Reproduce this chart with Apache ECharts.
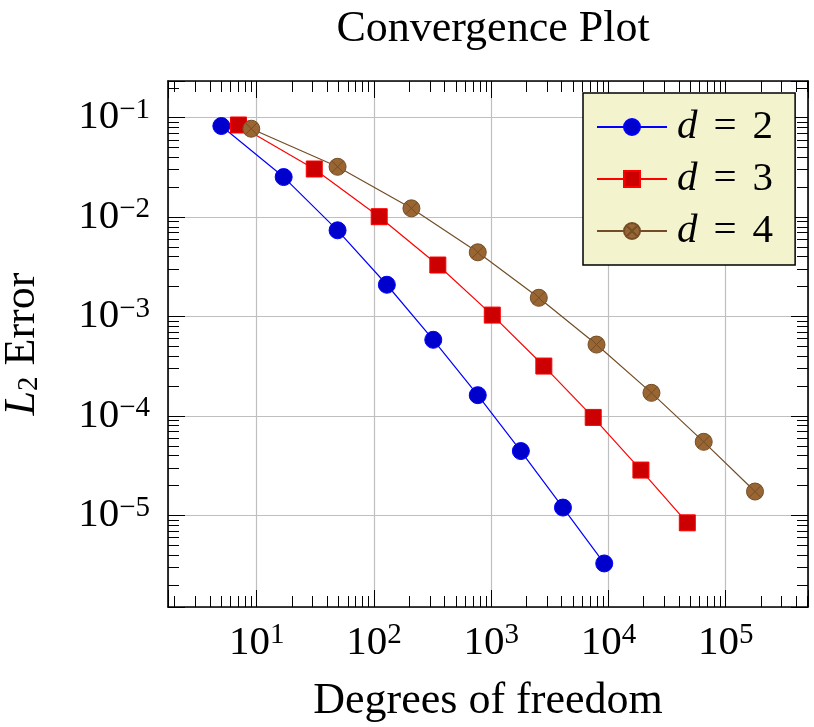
<!DOCTYPE html>
<html>
<head>
<meta charset="utf-8">
<title>Convergence Plot</title>
<script src="https://cdn.jsdelivr.net/npm/echarts@6/dist/echarts.min.js"></script>
<style>
    html, body { margin: 0; padding: 0; background: #fff; }
    #chart { width: 814px; height: 727px; }
</style>
</head>
<body>
<div id="chart"></div>
<script>
// degrees of freedom / L2 error per polynomial degree d
const dofD2 = [5, 17, 49, 129, 321, 769, 1793, 4097, 9217];
const errD2 = [0.0825, 0.0253, 0.00737, 0.00209, 5.84e-4, 1.62e-4, 4.44e-5, 1.20e-5, 3.29e-6];
const dofD3 = [7, 31, 111, 351, 1023, 2815, 7423, 18943, 47103];
const errD3 = [0.0845, 0.0305, 0.0101, 0.0033, 1.035e-3, 3.18e-4, 9.68e-5, 2.86e-5, 8.43e-6];
const dofD4 = [9, 49, 209, 769, 2550, 7920, 23300, 65000, 178000];
const errD4 = [0.0775, 0.0321, 0.01226, 0.00443, 1.545e-3, 5.23e-4, 1.71e-4, 5.50e-5, 1.74e-5];

const degrees = [2, 3, 4];
const seriesNames = ['d = 2', 'd = 3', 'd = 4'];

// axis limits (data range enlarged by 10% in log space)
const xMin = 1.754, xMax = 504000;
const yMin = 1.2e-6, yMax = 0.234;

const FONT = "'Liberation Serif', 'DejaVu Serif', serif";
const otimes = 'path://M0,10A10,10,0,1,1,20,10A10,10,0,1,1,0,10ZM2.93,2.93L17.07,17.07M17.07,2.93L2.93,17.07';

const zip = (xs, ys) => xs.map((x, i) => [x, ys[i]]);

function powLabel(v) {
    const l = Math.log10(v);
    const e = Math.round(l);
    if (Math.abs(l - e) > 1e-6) return '';
    return '{b|10}{s|' + (e < 0 ? '\u2212' + (-e) : e) + '}';
}

const labelRich = {
    b: { fontFamily: FONT, fontSize: 41, lineHeight: 44, color: '#000' },
    s: { fontFamily: FONT, fontSize: 29, lineHeight: 30, color: '#000', verticalAlign: 'top' }
};

function mainAxis(pos, min, max, extra) {
    return Object.assign({
        type: 'log',
        logBase: 10,
        position: pos,
        min: min,
        max: max,
        axisLine: { show: true, onZero: false, lineStyle: { color: '#000', width: 1.6 } },
        axisTick: { show: true, inside: true, length: 17, lineStyle: { color: '#000', width: 1 } },
        minorTick: { show: true, splitNumber: 9, length: 11, lineStyle: { color: '#000', width: 1 } },
        splitLine: { show: true, lineStyle: { color: '#bfbfbf', width: 1.2 } },
        minorSplitLine: { show: false },
        axisLabel: { show: true, formatter: powLabel, rich: labelRich, margin: 14 }
    }, extra || {});
}

function mirrorAxis(pos, min, max) {
    return mainAxis(pos, min, max, {
        splitLine: { show: false },
        axisLabel: { show: false }
    });
}

const lineColors = ['#0000ff', '#ff0000', '#734d26'];
const fillColors = ['#0000cc', '#cc0000', '#996633'];
const symbols = ['circle', 'rect', otimes];
const symbolSizes = [17, 16, 17];
const dataSets = [zip(dofD2, errD2), zip(dofD3, errD3), zip(dofD4, errD4)];

const chart = echarts.init(document.getElementById('chart'));

chart.setOption({
    animation: false,
    backgroundColor: '#fff',
    title: {
        text: 'Convergence Plot',
        left: 488,
        top: 2,
        textAlign: 'center',
        textStyle: { fontFamily: FONT, fontSize: 44, fontWeight: 'normal', color: '#000' }
    },
    grid: {
        left: 168, right: 6, top: 81, bottom: 120,
        containLabel: false,
        outerBoundsMode: 'none'
    },
    xAxis: [
        mainAxis('bottom', xMin, xMax, {
            name: 'Degrees of freedom',
            nameLocation: 'middle',
            nameGap: 72,
            nameTextStyle: { fontFamily: FONT, fontSize: 44, color: '#000' }
        }),
        mirrorAxis('top', xMin, xMax)
    ],
    yAxis: [
        mainAxis('left', yMin, yMax, {
            name: '{i|L}{sub|2} {t|Error}',
            nameLocation: 'middle',
            nameGap: 124,
            nameRotate: 90,
            nameTextStyle: {
                fontFamily: FONT, fontSize: 44, color: '#000',
                rich: {
                    i: { fontFamily: FONT, fontSize: 44, lineHeight: 44, fontStyle: 'italic', color: '#000' },
                    sub: { fontFamily: FONT, fontSize: 29, lineHeight: 20, verticalAlign: 'bottom', color: '#000' },
                    t: { fontFamily: FONT, fontSize: 44, lineHeight: 44, color: '#000' }
                }
            },
            axisLabel: { show: true, formatter: powLabel, rich: labelRich, margin: 18 }
        }),
        mirrorAxis('right', yMin, yMax)
    ],
    legend: {
        orient: 'vertical',
        left: 583,
        top: 93,
        padding: [12, 22, 12, 13],
        itemGap: 8,
        itemWidth: 70,
        itemHeight: 20,
        backgroundColor: '#f3f3ce',
        borderColor: '#000',
        borderWidth: 1.5,
        borderRadius: 0,
        data: seriesNames,
        formatter: function (name) {
            const d = degrees[seriesNames.indexOf(name)];
            return '{i|d}{o|=}{n|' + d + '}';
        },
        textStyle: {
            fontFamily: FONT, fontSize: 41, lineHeight: 44, color: '#000',
            rich: {
                i: { fontFamily: FONT, fontSize: 41, fontStyle: 'italic', color: '#000', padding: [0, 0, 0, 5] },
                o: { fontFamily: FONT, fontSize: 41, color: '#000', padding: [0, 16, 0, 16] },
                n: { fontFamily: FONT, fontSize: 41, color: '#000' }
            }
        }
    },
    series: dataSets.map((data, k) => ({
        name: seriesNames[k],
        type: 'line',
        data: data,
        symbol: symbols[k],
        symbolSize: symbolSizes[k],
        showSymbol: true,
        showAllSymbol: true,
        lineStyle: { color: lineColors[k], width: 1.2 },
        itemStyle: { color: fillColors[k], borderColor: lineColors[k], borderWidth: 1 },
        emphasis: { disabled: true }
    }))
});
</script>
</body>
</html>
